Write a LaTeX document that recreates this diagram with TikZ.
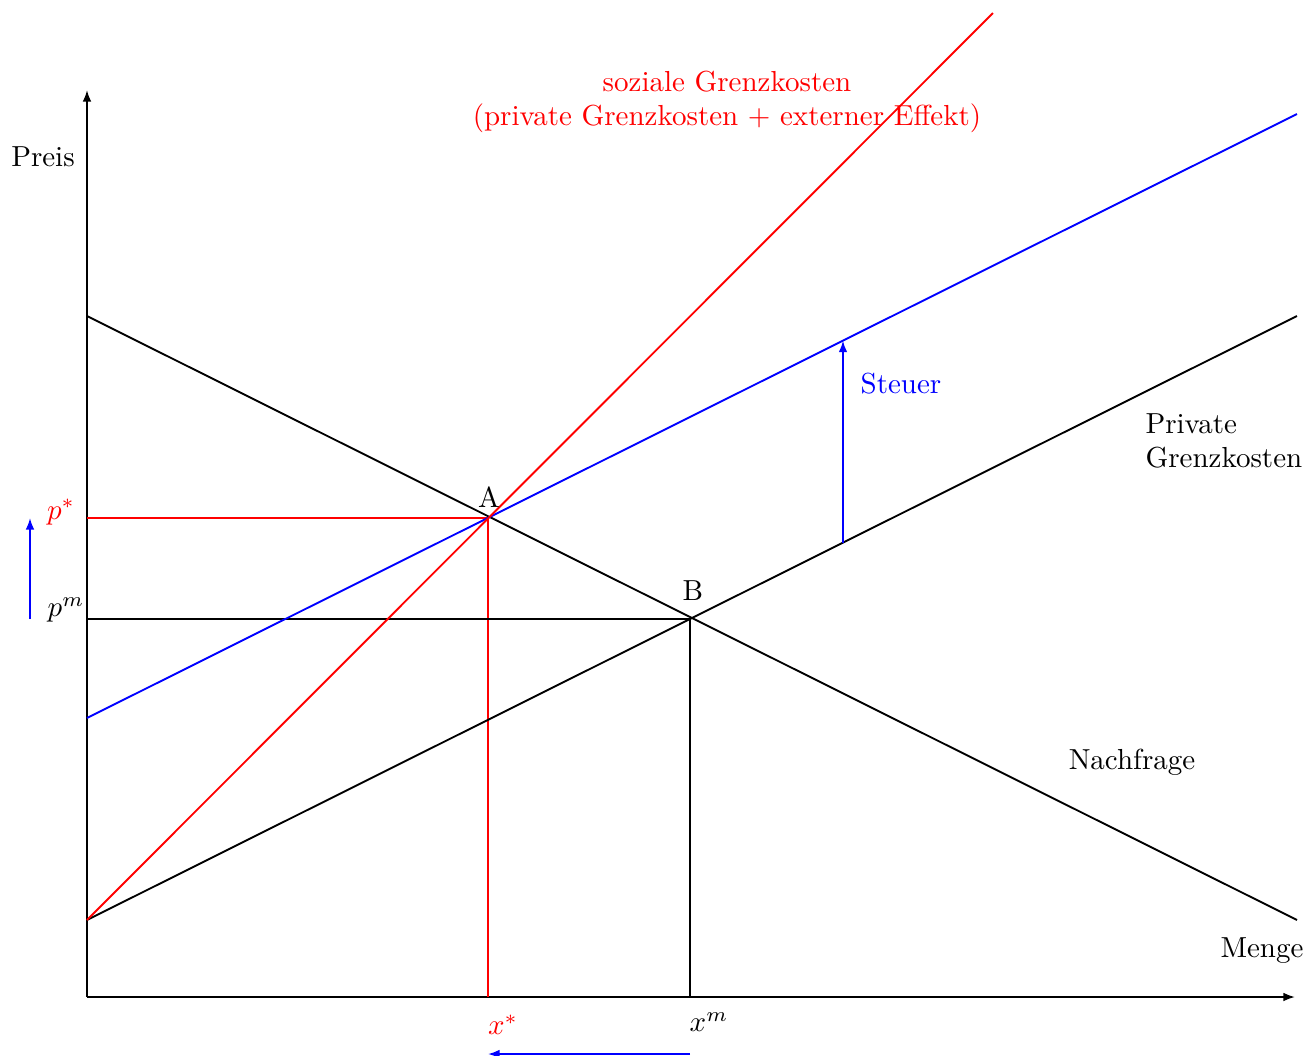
\documentclass[tikz,border=0pt]{standalone}
\usetikzlibrary{arrows.meta}
\begin{document}
\begin{tikzpicture}[x=0.345pt,y=-0.345pt,
  curve/.style={line width=0.65pt},
  axis/.style={line width=0.65pt,-{Latex[length=4pt,width=3pt]}},
  movearrow/.style={line width=0.65pt,blue,-{Latex[length=4pt,width=3pt]}},
  lbl/.style={inner sep=0pt}]
\useasboundingbox (0,0) rectangle (1308,1055);
% coordinates
\coordinate (O) at (87,997);
\coordinate (ytop) at (87,90);
\coordinate (xend) at (1295,997);
\coordinate (D1) at (87,316);
\coordinate (D2) at (1297,920);
\coordinate (P1) at (87,920);
\coordinate (P2) at (1297,316);
\coordinate (B1) at (87,718);
\coordinate (B2) at (1297,114);
\coordinate (R2) at (993,13);
\coordinate (A) at (488,518);
\coordinate (B) at (690,619);
\coordinate (pstar) at (87,518);
\coordinate (pm) at (87,619);
\coordinate (xstar) at (488,997);
\coordinate (xm) at (690,997);
\coordinate (T1) at (843,542.6);
\coordinate (T2) at (843,340.6);
\coordinate (L1) at (30,619);
\coordinate (L2) at (30,518);
\coordinate (U1) at (690,1054);
\coordinate (U2) at (488,1054);
% axes
\draw[axis] (O) -- (ytop);
\draw[axis] (O) -- (xend);
% guides
\draw[curve,red] (pstar) -- (A) -- (xstar);
\draw[curve] (pm) -- (B) -- (xm);
% curves
\draw[curve] (D1) -- (D2);
\draw[curve] (P1) -- (P2);
\draw[curve,blue] (B1) -- (B2);
\draw[curve,red] (P1) -- (R2);
% arrows
\draw[movearrow] (T1) -- (T2);
\draw[movearrow] (L1) -- (L2);
\draw[movearrow] (U1) -- (U2);
% labels
\node[lbl] (preis) at (43,157) {Preis};
\node[lbl] (menge) at (1262,951) {Menge};
\node[lbl,red] (lps) at (61,512) {$p^*$};
\node[lbl] (lpm) at (66,610) {$p^m$};
\node[lbl,red] (lxs) at (503,1025) {$x^*$};
\node[lbl] (lxm) at (709,1022) {$x^m$};
\node[lbl] (lA) at (489,497) {A};
\node[lbl] (lB) at (693,591) {B};
\node[lbl,blue] (steuer) at (901,384) {Steuer};
\node[lbl,align=left,anchor=west] (priv) at (1145,441) {Private\\Grenzkosten};
\node[lbl] (nach) at (1132,762) {Nachfrage};
\node[lbl,red,align=center] (soz) at (727,102) {soziale Grenzkosten\\(private Grenzkosten + externer Effekt)};
\end{tikzpicture}
\end{document}
